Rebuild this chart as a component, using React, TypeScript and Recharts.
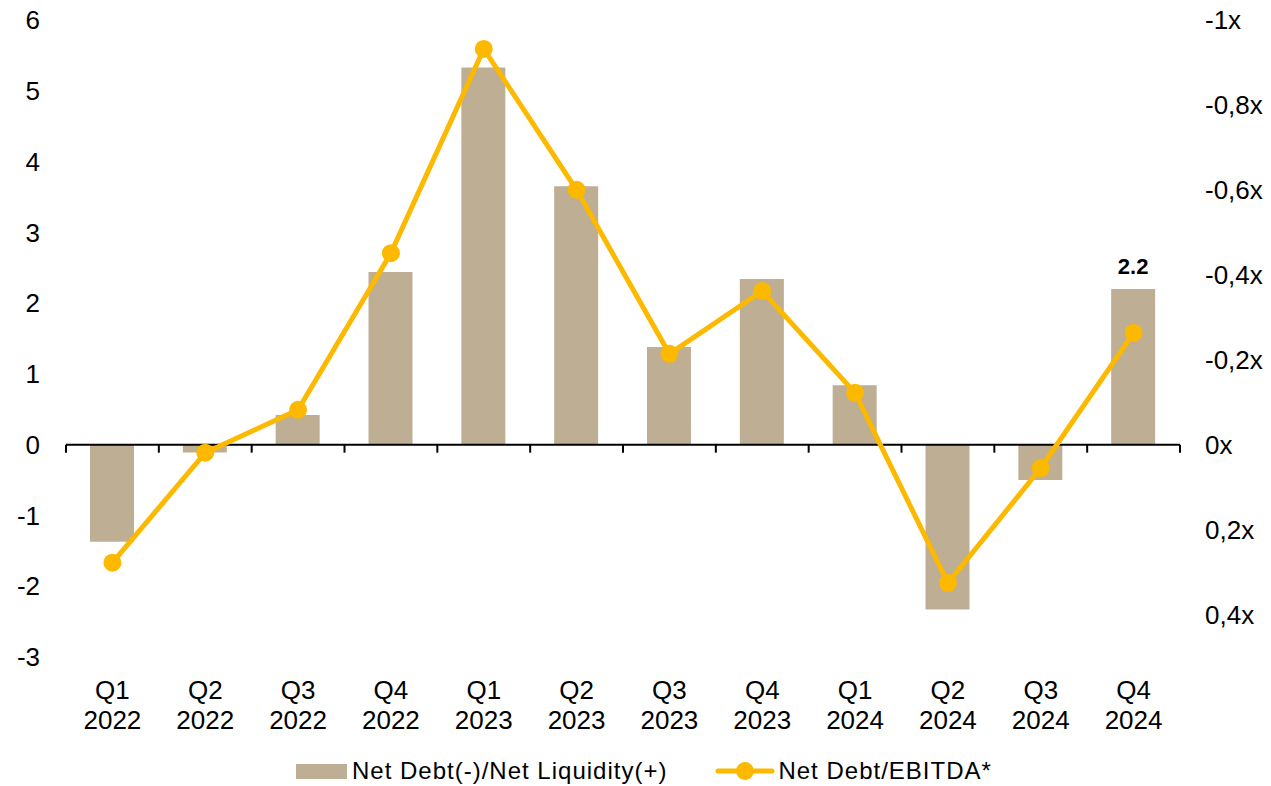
import React from "react";
import {
  Bar,
  ComposedChart,
  LabelList,
  Legend,
  Line,
  ReferenceLine,
  XAxis,
  YAxis,
} from "recharts";

const quarters = ["Q1", "Q2", "Q3", "Q4", "Q1", "Q2", "Q3", "Q4", "Q1", "Q2", "Q3", "Q4"];
const years = ["2022", "2022", "2022", "2022", "2023", "2023", "2023", "2023", "2024", "2024", "2024", "2024"];
const netLiquidity = [-1.37, -0.11, 0.42, 2.44, 5.33, 3.65, 1.38, 2.34, 0.84, -2.33, -0.5, 2.2];
const debtToEbitda = [0.278, 0.019, -0.082, -0.451, -0.932, -0.6, -0.214, -0.362, -0.122, 0.326, 0.055, -0.263];
const leftTicks = [-3, -2, -1, 0, 1, 2, 3, 4, 5, 6];
const rightTicks = [-1, -0.8, -0.6, -0.4, -0.2, 0, 0.2, 0.4];

const BAR_COLOR = "#BDAE94";
const LINE_COLOR = "#FCB900";
const FONT = "'Liberation Sans', Arial, sans-serif";

const data = quarters.map((q, i) => ({
  name: `${q} ${years[i]}`,
  liquidity: netLiquidity[i],
  ratio: debtToEbitda[i],
  label: i === quarters.length - 1 ? netLiquidity[i] : null,
}));

const formatRatio = (v: number): string => {
  if (v === 0) return "0x";
  const s = v.toFixed(1).replace(/\.0$/, "").replace(".", ",");
  return `${s}x`;
};

const CategoryTick = (props: any) => {
  const { x, y, payload } = props;
  const [q, yr] = String(payload.value).split(" ");
  return (
    <text x={x} y={y} textAnchor="middle" fill="#000" fontSize={26} fontFamily={FONT}>
      <tspan x={x} dy={40}>{q}</tspan>
      <tspan x={x} dy={30}>{yr}</tspan>
    </text>
  );
};

const ZeroAxis = (props: any) => {
  const { x1, y1, x2 } = props;
  const n = quarters.length;
  const marks = [];
  for (let i = 0; i <= n; i++) {
    const x = x1 + ((x2 - x1) * i) / n;
    marks.push(<line key={i} x1={x} y1={y1} x2={x} y2={y1 + 8} stroke="#000" strokeWidth={2} />);
  }
  return (
    <g>
      <line x1={x1} y1={y1} x2={x2} y2={y1} stroke="#000" strokeWidth={2} />
      {marks}
    </g>
  );
};

const renderBarLabel = (props: any) => {
  const { x, y, width, value } = props;
  if (value === null || value === undefined) return null;
  return (
    <text
      x={Number(x) + Number(width) / 2}
      y={Number(y) - 15}
      textAnchor="middle"
      fontSize={22}
      fontWeight={700}
      fontFamily={FONT}
      fill="#000"
    >
      {Number(value).toFixed(1)}
    </text>
  );
};

const renderLegend = () => (
  <div
    style={{
      display: "flex",
      alignItems: "center",
      height: 40,
      paddingLeft: 296,
      paddingTop: 10,
      boxSizing: "border-box",
      fontFamily: FONT,
      fontSize: 24,
      letterSpacing: 1,
      color: "#000",
    }}
  >
    <div style={{ width: 51, height: 15, background: BAR_COLOR, marginRight: 5 }} />
    <span>Net Debt(-)/Net Liquidity(+)</span>
    <svg width={60} height={24} style={{ marginLeft: 48, marginRight: 3 }}>
      <line x1={3} y1={12} x2={57} y2={12} stroke={LINE_COLOR} strokeWidth={5} strokeLinecap="round" />
      <circle cx={30} cy={12} r={9} fill={LINE_COLOR} />
    </svg>
    <span>Net Debt/EBITDA*</span>
  </div>
);

export default function App() {
  return (
    <div style={{ position: "absolute", left: 0, top: 0, width: 1271, height: 786, background: "#fff" }}>
      <ComposedChart width={1271} height={786} data={data} margin={{ top: 20, right: 0, bottom: 0, left: 0 }}>
        <XAxis
          dataKey="name"
          axisLine={false}
          tickLine={false}
          tickSize={0}
          height={89}
          interval={0}
          tick={<CategoryTick />}
        />
        <YAxis
          yAxisId="left"
          width={66}
          domain={[-3, 6]}
          ticks={leftTicks}
          axisLine={false}
          tickLine={false}
          tickSize={0}
          tickMargin={26}
          tick={{ fill: "#000", fontSize: 26, fontFamily: FONT }}
        />
        <YAxis
          yAxisId="right"
          orientation="right"
          width={91}
          domain={[-1, 0.5]}
          reversed
          ticks={rightTicks}
          tickFormatter={formatRatio}
          axisLine={false}
          tickLine={false}
          tickSize={0}
          tickMargin={25}
          tick={{ fill: "#000", fontSize: 26, fontFamily: FONT }}
        />
        <Legend verticalAlign="bottom" height={40} content={renderLegend} />
        <Bar yAxisId="left" dataKey="liquidity" fill={BAR_COLOR} barSize={44} isAnimationActive={false}>
          <LabelList dataKey="label" content={renderBarLabel} />
        </Bar>
        <ReferenceLine yAxisId="left" y={0} shape={<ZeroAxis />} />
        <Line
          yAxisId="right"
          dataKey="ratio"
          stroke={LINE_COLOR}
          strokeWidth={5}
          dot={{ r: 9, fill: LINE_COLOR, stroke: "none" }}
          activeDot={false}
          isAnimationActive={false}
        />
      </ComposedChart>
    </div>
  );
}
